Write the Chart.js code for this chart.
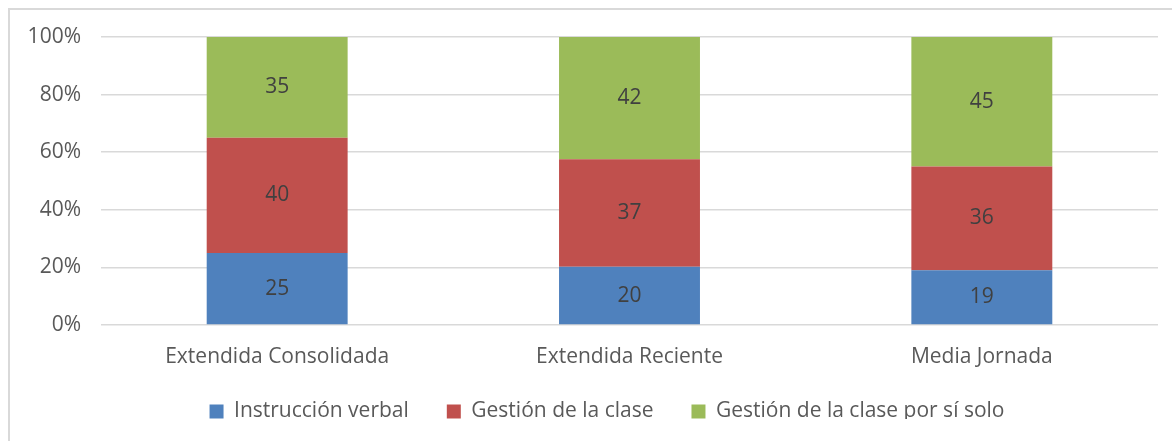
<!DOCTYPE html>
<html lang="es">
<head>
<meta charset="UTF-8">
<title>Gestión de la clase</title>
<script src="https://cdn.jsdelivr.net/npm/chart.js"></script>
<style>
body {
    margin: 0;
    padding: 0;
    background: #fff;
}
#wrap {
    width: 1172px;
    height: 441px;
}
</style>
</head>
<body>
<div id="wrap"><canvas id="grafico"></canvas></div>

<script>
// datos
var categorias = ['Extendida Consolidada', 'Extendida Reciente', 'Media Jornada'];
var instruccionVerbal = [25, 20, 19];
var gestionClase = [40, 37, 36];
var gestionPorSiSolo = [35, 42, 45];
var ticksY = [0, 20, 40, 60, 80, 100];

var fuente = "'Open Sans', sans-serif";

// 100% apilado: cada serie pasa a porcentaje del total de la barra
function porcentaje(serie) {
    return serie.map(function(v, i) {
        var total = instruccionVerbal[i] + gestionClase[i] + gestionPorSiSolo[i];
        return v / total * 100;
    });
}

// marco gris de fondo (arriba e izquierda)
var marco = {
    id: 'marco',
    beforeDraw: function(chart) {
        var ctx = chart.ctx;
        ctx.save();
        ctx.strokeStyle = '#d9d9d9';
        ctx.lineWidth = 2;
        ctx.beginPath();
        ctx.moveTo(9, chart.height + 2);
        ctx.lineTo(9, 9);
        ctx.lineTo(chart.width + 2, 9);
        ctx.stroke();
        ctx.restore();
    },
    // la leyenda va un poco corrida: a la derecha y mas arriba
    afterLayout: function(chart) {
        chart.legend.left += 28;
        chart.legend.right += 28;
        chart.legend.top -= 22;
        chart.legend.bottom -= 22;
    }
};

// etiquetas con el valor original dentro de cada segmento
var etiquetas = {
    id: 'etiquetas',
    afterDatasetsDraw: function(chart) {
        var ctx = chart.ctx;
        ctx.save();
        ctx.font = '21px ' + fuente;
        ctx.fillStyle = '#404040';
        ctx.textAlign = 'center';
        ctx.textBaseline = 'middle';
        chart.data.datasets.forEach(function(ds, i) {
            chart.getDatasetMeta(i).data.forEach(function(bar, j) {
                ctx.fillText(ds.valores[j], bar.x, (bar.y + bar.base) / 2);
            });
        });
        ctx.restore();
    }
};

var ctx = document.getElementById('grafico').getContext('2d');
var grafico = new Chart(ctx, {
    type: 'bar',
    data: {
        labels: categorias,
        datasets: [{
            label: 'Instrucción verbal',
            data: porcentaje(instruccionVerbal),
            valores: instruccionVerbal,
            backgroundColor: '#4f81bd'
        }, {
            label: 'Gestión de la clase',
            data: porcentaje(gestionClase),
            valores: gestionClase,
            backgroundColor: '#c0504d'
        }, {
            label: 'Gestión de la clase por sí solo',
            data: porcentaje(gestionPorSiSolo),
            valores: gestionPorSiSolo,
            backgroundColor: '#9bbb59'
        }]
    },
    options: {
        responsive: true,
        maintainAspectRatio: false,
        animation: false,
        layout: {
            padding: { top: 37, right: 14, left: 0, bottom: 0 }
        },
        datasets: {
            bar: {
                barPercentage: 0.4,
                categoryPercentage: 1
            }
        },
        scales: {
            x: {
                stacked: true,
                grid: { display: false, drawTicks: false },
                border: { display: false },
                ticks: {
                    color: '#595959',
                    padding: 19,
                    font: { family: fuente, size: 21 }
                },
                afterFit: function(scale) { scale.height = 60; }
            },
            y: {
                stacked: true,
                min: 0,
                max: 100,
                afterBuildTicks: function(scale) {
                    scale.ticks = ticksY.map(function(v) { return { value: v }; });
                },
                grid: { color: '#d9d9d9', lineWidth: 1.5, drawTicks: false },
                border: { display: false },
                ticks: {
                    color: '#595959',
                    padding: 20,
                    font: { family: fuente, size: 21 },
                    callback: function(v) { return v + '%'; }
                },
                afterFit: function(scale) { scale.width = 101; }
            }
        },
        plugins: {
            legend: {
                position: 'bottom',
                maxHeight: 56,
                labels: {
                    color: '#595959',
                    boxWidth: 14,
                    boxHeight: 14,
                    padding: 38,
                    font: { family: fuente, size: 21 }
                }
            },
            tooltip: { enabled: false }
        }
    },
    plugins: [marco, etiquetas]
});
</script>
</body>
</html>
